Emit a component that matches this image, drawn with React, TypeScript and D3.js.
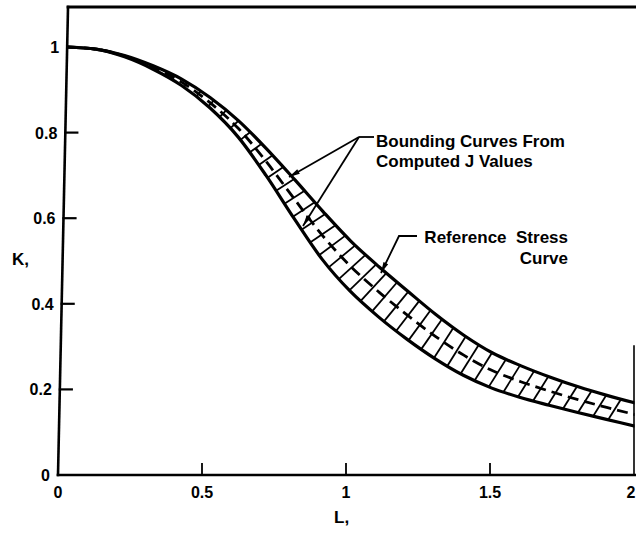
import React, { useEffect, useRef } from 'react';
import * as d3 from 'd3';

// Lr values (x) and Kr values (y)
const Lr = [0, 0.1, 0.2, 0.3, 0.4, 0.5, 0.6, 0.7, 0.8, 0.9, 1.0, 1.1, 1.2, 1.3, 1.4, 1.5, 1.6, 1.7, 1.8, 1.9, 2.0];
const upperK = [1.0, 0.995, 0.98, 0.956, 0.925, 0.882, 0.828, 0.762, 0.69, 0.616, 0.546, 0.486, 0.43, 0.375, 0.326, 0.285, 0.255, 0.229, 0.206, 0.186, 0.168];
const referenceK = [1.0, 0.995, 0.979, 0.952, 0.918, 0.87, 0.81, 0.732, 0.645, 0.56, 0.488, 0.428, 0.374, 0.324, 0.28, 0.244, 0.218, 0.196, 0.176, 0.158, 0.141];
const lowerK = [1.0, 0.995, 0.977, 0.948, 0.91, 0.858, 0.79, 0.7, 0.6, 0.505, 0.43, 0.37, 0.318, 0.272, 0.233, 0.203, 0.181, 0.163, 0.146, 0.13, 0.114];

const yTicks = [0, 0.2, 0.4, 0.6, 0.8, 1];
const yTickLabels = ['0', '0.2', '0.4', '0.6', '0.8', '1'];
const xTicks = [0, 0.5, 1, 1.5, 2];
const xTickLabels = ['0', '0.5', '1', '1.5', '2'];

const annBounding = ['Bounding Curves From', 'Computed J Values'];
const annReference = ['Reference  Stress', 'Curve'];

export default function App() {
  const ref = useRef<SVGSVGElement>(null);

  useEffect(() => {
    const W = 636;
    const svg = d3.select(ref.current);
    svg.selectAll('*').remove();
    const font = "'Liberation Sans', Arial, Helvetica, sans-serif";

    const x = d3.scaleLinear().domain([0, 2]).range([58, 634]);
    const y = d3.scaleLinear().domain([0, 1]).range([475, 47]);
    const skew = 0.0214; // the scanned frame leans slightly
    const px = (L: number, K: number) => x(L) + skew * (y(0) - y(K));
    const topY = 7;
    const topK = y.invert(topY);

    const defs = svg.append('defs');
    defs.append('clipPath').attr('id', 'plotclip')
      .append('rect').attr('x', 0).attr('y', 0).attr('width', 634.5).attr('height', 475);

    // frame
    const frame = svg.append('g').attr('stroke', '#000').attr('fill', 'none').attr('stroke-linecap', 'square');
    frame.append('line').attr('x1', px(0, 0)).attr('y1', y(0)).attr('x2', px(0, topK)).attr('y2', topY).attr('stroke-width', 2.6);
    frame.append('line').attr('x1', px(0, 0)).attr('y1', y(0)).attr('x2', W).attr('y2', y(0)).attr('stroke-width', 2.6);
    frame.append('line').attr('x1', px(0, topK)).attr('y1', topY).attr('x2', W).attr('y2', topY).attr('stroke-width', 2.8);
    frame.append('line').attr('x1', x(2)).attr('y1', 346).attr('x2', x(2)).attr('y2', y(0)).attr('stroke-width', 1.6);

    // y ticks
    yTicks.forEach((t, i) => {
      if (t > 0 && t < 1) {
        frame.append('line').attr('x1', px(0, t)).attr('y1', y(t)).attr('x2', px(0, t) + 12).attr('y2', y(t)).attr('stroke-width', 2.2);
      }
      svg.append('text').attr('x', px(0, t) - 8).attr('y', y(t) + 6)
        .attr('text-anchor', 'end').attr('font-family', font).attr('font-weight', 'bold')
        .attr('font-size', 16).text(yTickLabels[i]);
    });
    // x ticks
    xTicks.forEach((t, i) => {
      if (t > 0 && t < 2) {
        frame.append('line').attr('x1', x(t)).attr('y1', y(0)).attr('x2', x(t)).attr('y2', y(0) - 11).attr('stroke-width', 1.8);
      }
      const last = i === xTicks.length - 1;
      svg.append('text').attr('x', last ? W - 0.5 : x(t)).attr('y', 498)
        .attr('text-anchor', last ? 'end' : 'middle').attr('font-family', font).attr('font-weight', 'bold')
        .attr('font-size', 16).text(xTickLabels[i]);
    });

    // axis titles
    svg.append('text').attr('x', 12).attr('y', 265).attr('font-family', font).attr('font-weight', 'bold')
      .attr('font-size', 17).text('K,');
    svg.append('text').attr('x', 334).attr('y', 523).attr('font-family', font).attr('font-weight', 'bold')
      .attr('font-size', 17).text('L,');

    // curves
    const plot = svg.append('g').attr('clip-path', 'url(#plotclip)');
    const mk = (ks: number[]) => Lr.map((L, i) => ({ L, K: ks[i] }));
    const line = d3.line<{ L: number; K: number }>()
      .x(d => px(d.L, d.K)).y(d => y(d.K)).curve(d3.curveMonotoneX);

    const upperPath = plot.append('path').attr('d', line(mk(upperK))!)
      .attr('fill', 'none').attr('stroke', '#000').attr('stroke-width', 3.2);
    const lowerPath = plot.append('path').attr('d', line(mk(lowerK))!)
      .attr('fill', 'none').attr('stroke', '#000').attr('stroke-width', 3.2);
    plot.append('path').attr('d', line(mk(referenceK))!)
      .attr('fill', 'none').attr('stroke', '#000').attr('stroke-width', 2.8)
      .attr('stroke-dasharray', '11,6');

    // hatching between the bounding curves, roughly normal to the band
    const up = upperPath.node() as SVGPathElement;
    const lo = lowerPath.node() as SVGPathElement;
    const upLen = up.getTotalLength();
    const loLen = lo.getTotalLength();
    const upPts: { x: number; y: number }[] = [];
    for (let s = 0; s <= upLen; s += 1.5) {
      const p = up.getPointAtLength(s);
      upPts.push({ x: p.x, y: p.y });
    }
    const startX = px(0.36, 0.94);
    let s0 = 0;
    while (s0 < loLen && lo.getPointAtLength(s0).x < startX) s0 += 1;
    const hatch = plot.append('g').attr('stroke', '#000').attr('stroke-width', 1.8);
    const maxAng = (58 * Math.PI) / 180;
    for (let s = s0; s < loLen - 1; s += 15.5) {
      const p = lo.getPointAtLength(s);
      const a = lo.getPointAtLength(Math.max(0, s - 2));
      const b = lo.getPointAtLength(Math.min(loLen, s + 2));
      let tx = b.x - a.x, ty = b.y - a.y;
      const tl = Math.hypot(tx, ty) || 1;
      tx /= tl; ty /= tl;
      let ang = Math.atan2(tx, ty); // angle of the normal above horizontal
      ang = Math.min(ang, maxAng);
      const nx = Math.cos(ang), ny = -Math.sin(ang);
      let hit: { x: number; y: number } | null = null;
      for (let i = 0; i < upPts.length - 1; i++) {
        const A = upPts[i], B = upPts[i + 1];
        const ex = B.x - A.x, ey = B.y - A.y;
        const den = nx * ey - ny * ex;
        if (Math.abs(den) < 1e-9) continue;
        const u = ((A.x - p.x) * ey - (A.y - p.y) * ex) / den;
        const v = ((A.x - p.x) * ny - (A.y - p.y) * nx) / den;
        if (u > 0 && v >= 0 && v <= 1) { hit = { x: p.x + u * nx, y: p.y + u * ny }; break; }
      }
      if (hit && Math.hypot(hit.x - p.x, hit.y - p.y) > 3) {
        hatch.append('line').attr('x1', p.x).attr('y1', p.y).attr('x2', hit.x).attr('y2', hit.y);
      }
    }

    // annotations
    const ann = svg.append('g').attr('stroke', '#000').attr('stroke-width', 1.8).attr('fill', 'none');
    const arrowHead = (x1: number, y1: number, x2: number, y2: number) => {
      const dx = x2 - x1, dy = y2 - y1, l = Math.hypot(dx, dy);
      const ux = dx / l, uy = dy / l;
      const len = 11, w = 2.6;
      const bx = x2 - ux * len, by = y2 - uy * len;
      svg.append('path')
        .attr('d', `M${x2},${y2}L${bx - uy * w},${by + ux * w}L${bx + uy * w},${by - ux * w}Z`)
        .attr('fill', '#000');
    };
    // Bounding curves leader
    const bx0 = 359, by0 = 137;
    ann.append('line').attr('x1', bx0).attr('y1', by0).attr('x2', 374).attr('y2', by0);
    const tip1 = { x: 289, y: 177 };
    const tip2 = { x: 303, y: 226 };
    ann.append('line').attr('x1', bx0).attr('y1', by0).attr('x2', tip1.x).attr('y2', tip1.y);
    ann.append('line').attr('x1', bx0).attr('y1', by0).attr('x2', tip2.x).attr('y2', tip2.y);
    arrowHead(bx0, by0, tip1.x, tip1.y);
    arrowHead(bx0, by0, tip2.x, tip2.y);
    // Reference stress leader
    ann.append('path').attr('d', `M417,236L399,236L381,273`);
    arrowHead(399, 236, 381, 273);

    annBounding.forEach((t, i) => {
      svg.append('text').attr('x', 376).attr('y', 147 + i * 20).attr('font-family', font)
        .attr('font-weight', 'bold').attr('font-size', 17).text(t);
    });
    annReference.forEach((t, i) => {
      svg.append('text').attr('x', 568).attr('y', 243 + i * 21).attr('text-anchor', 'end')
        .attr('font-family', font).attr('font-weight', 'bold').attr('font-size', 17)
        .attr('xml:space', 'preserve').style('white-space', 'pre').text(t);
    });
  }, []);

  return (
    <svg ref={ref} width={636} height={533}
      style={{ position: 'absolute', left: 0, top: 0, background: '#fff' }} />
  );
}
